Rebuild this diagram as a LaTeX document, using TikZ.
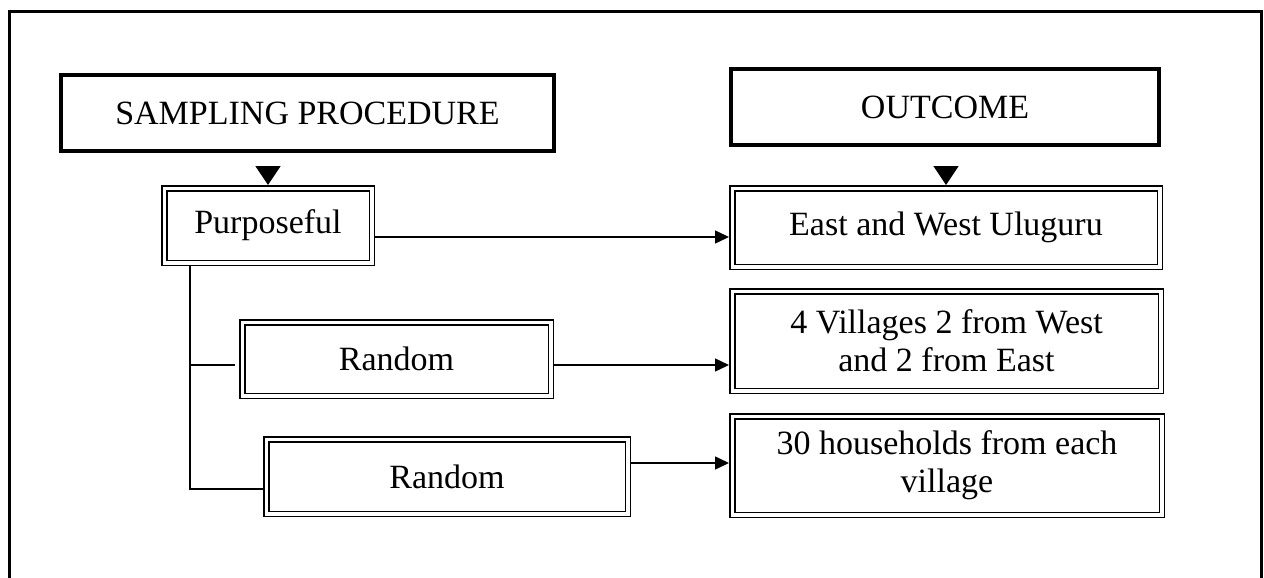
\documentclass[tikz,border=0pt]{standalone}
\usepackage{fontspec}
\setmainfont{Liberation Serif}
\usetikzlibrary{arrows.meta,calc}
\begin{document}
\begin{tikzpicture}[x=1pt,y=-1pt,
  txt/.style={font=\fontsize{34}{38}\selectfont, align=center, inner sep=0pt},
  headbox/.style={txt, draw, line width=4pt, outer sep=2pt},
  dbox/.style={txt, draw, line width=1.5pt, double, double distance=3.5pt, outer sep=3.25pt},
  conn/.style={line width=1.5pt},
  arr/.style={conn, -{Triangle[length=14pt,width=13pt]}},
  bigarr/.style={conn, -{Triangle[length=19pt,width=25pt]}}]
\useasboundingbox (0,0) rectangle (1264,578);
% outer frame
\draw[line width=3pt] (9,620) -- (9,12) -- (1261,12) -- (1261,620);
% headers
\node[headbox, minimum width=493pt, minimum height=76pt] (samp) at (307.5,113) {SAMPLING PROCEDURE};
\node[headbox, minimum width=428pt, minimum height=76pt] (outc) at (945,107) {OUTCOME};
% procedure boxes
\node[dbox, minimum width=207.5pt, minimum height=74.5pt] (purp) at (268,225.5) {Purposeful};
\node[dbox, minimum width=308.5pt, minimum height=73.5pt] (rand1) at (396.5,359) {Random};
\node[dbox, minimum width=361.5pt, minimum height=74.5pt] (rand2) at (447,476.5) {Random};
% outcome boxes
\node[dbox, minimum width=427.5pt, minimum height=78.5pt] (east) at (946,227.5) {East and West Uluguru};
\node[dbox, minimum width=428.5pt, minimum height=99.5pt] (vill) at (946.5,341) {4 Villages 2 from West\\and 2 from East};
\node[dbox, minimum width=429.5pt, minimum height=98.5pt] (hh) at (947,465.5) {30 households from each\\village};
% header arrows
\draw[bigarr, shorten <=13pt] (purp.north |- samp.south) -- (purp.north);
\draw[bigarr, shorten <=19pt] (east.north |- outc.south) -- (east.north);
% horizontal arrows
\draw[arr] (purp.east) ++(0,11.5) coordinate (p1) -- (p1 -| east.west);
\draw[arr] (rand1.east) ++(0,6) coordinate (r1) -- (r1 -| vill.west);
\draw[arr] (rand2.east) ++(0,-13.5) coordinate (r2) -- (r2 -| hh.west);
% tree from Purposeful
\coordinate (t0) at ($(purp.south west)+(29,0)$);
\draw[conn] (t0) -- ($(t0 |- rand2.west)+(0,12.5)$) -- ($(rand2.west)+(0,12.5)$);
\draw[conn] ($(t0 |- rand1.west)+(0,6)$) -- ($(rand1.west)+(-4,6)$);
\end{tikzpicture}
\end{document}
